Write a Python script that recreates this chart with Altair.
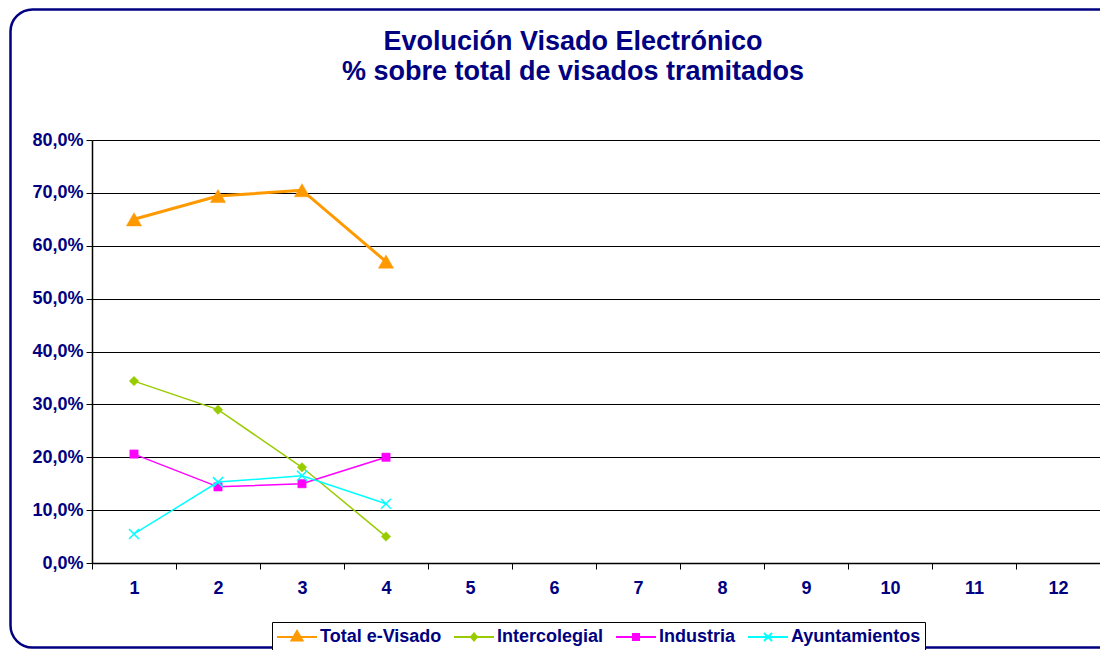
import altair as alt
import pandas as pd

months = list(range(1, 13))
series = ["Total e-Visado", "Intercolegial", "Industria", "Ayuntamientos"]
months_data = [1, 2, 3, 4]
total = [65.0, 69.4, 70.5, 57.0]
intercolegial = [34.4, 29.0, 18.1, 5.0]
industria = [20.6, 14.4, 15.0, 20.0]
ayuntamientos = [5.5, 15.3, 16.5, 11.2]
y_ticks = [0, 10, 20, 30, 40, 50, 60, 70, 80]
title_lines = ["Evolución  Visado Electrónico", "% sobre total de visados tramitados"]

colors = ["#FF9900", "#99CC00", "#FF00FF", "#00FFFF"]
widths = [3, 1.5, 1.5, 1.5]
shapes = ["triangle-up", "diamond", "square", "M-1,-1L1,1M-1,1L1,-1"]
sizes = [230, 90, 70, 100]
filled = [True, True, True, False]
# legend symbols: line from -1..3 units (10 px per unit), marker centred at unit 1
legend_paths = [
    "M-1,0H3M1,-0.6L1.55,0.35L0.45,0.35Z",
    "M-1,0H3M1,-0.35L1.3,0L1,0.35L0.7,0Z",
    "M-1,0H3M0.7,-0.3H1.3V0.3H0.7Z",
    "M-1,0H3M0.6,-0.4L1.4,0.4M0.6,0.4L1.4,-0.4",
]

rows = []
for name, vals in zip(series, [total, intercolegial, industria, ayuntamientos]):
    for m, v in zip(months_data, vals):
        rows.append({"mes": m, "valor": v, "serie": name})
df = pd.DataFrame(rows)

NAVY = "#000080"
FONT = "Liberation Sans"

x_enc = alt.X(
    "mes:O",
    scale=alt.Scale(type="band", domain=months, paddingInner=0, paddingOuter=0),
    axis=alt.Axis(
        title=None, tickBand="extent", grid=False, labelAngle=0,
        labelFont=FONT, labelFontSize=18, labelFontWeight="bold", labelColor=NAVY,
        labelPadding=10, tickSize=6, tickColor="black", domainColor="black",
        domainWidth=1.5, tickWidth=1,
    ),
)
y_enc = alt.Y(
    "valor:Q",
    scale=alt.Scale(domain=[0, 80], nice=False),
    axis=alt.Axis(
        title=None, values=y_ticks, grid=True, gridColor="black", gridWidth=1,
        labelExpr="replace(format(datum.value, '.1f'), '.', ',') + '%'",
        labelFont=FONT, labelFontSize=18, labelFontWeight="bold", labelColor=NAVY,
        labelPadding=3, tickSize=6, tickColor="black", domainColor="black",
        domainWidth=1.5,
    ),
)

base = alt.Chart(df)

border = alt.Chart(pd.DataFrame({"k": [0]})).mark_rect(
    fill="transparent", stroke=NAVY, strokeWidth=2.5, cornerRadius=22
).encode(
    x=alt.value(-81.5), x2=alt.value(1100), y=alt.value(-130.5), y2=alt.value(507.5)
)

title_df = pd.DataFrame({"t": title_lines})
title1 = alt.Chart(title_df).transform_filter(alt.datum.t == title_lines[0]).mark_text(
    font=FONT, fontSize=27, fontWeight="bold", color=NAVY, align="center", baseline="alphabetic"
).encode(text="t:N", x=alt.value(481), y=alt.value(-90))
title2 = alt.Chart(title_df).transform_filter(alt.datum.t == title_lines[1]).mark_text(
    font=FONT, fontSize=27, fontWeight="bold", color=NAVY, align="center", baseline="alphabetic"
).encode(text="t:N", x=alt.value(481), y=alt.value(-60))

layers = [border, title1, title2]
for i, name in enumerate(series):
    sub = base.transform_filter(alt.datum.serie == name)
    layers.append(
        sub.mark_line(color=colors[i], strokeWidth=widths[i]).encode(x=x_enc, y=y_enc)
    )
    pt_kwargs = dict(shape=shapes[i], size=sizes[i], opacity=1, filled=filled[i])
    if filled[i]:
        pt_kwargs.update(fill=colors[i], stroke=colors[i], strokeWidth=0.5)
    else:
        pt_kwargs.update(stroke=colors[i], strokeWidth=1.5)
    layers.append(sub.mark_point(**pt_kwargs).encode(x=x_enc, y=y_enc))


def legend_def():
    return alt.Legend(
        title=None, orient="none", legendX=180, legendY=482, direction="horizontal",
        symbolSize=400, symbolStrokeWidth=2, labelFont=FONT, labelFontSize=18,
        labelFontWeight="bold", labelColor=NAVY, labelOffset=22, columnPadding=8,
        padding=4, strokeColor="black", fillColor="white",
    )


legend_layer = base.transform_filter("false").mark_point(opacity=1, filled=True).encode(
    x=x_enc,
    y=y_enc,
    fill=alt.Fill("serie:N", scale=alt.Scale(domain=series, range=colors), legend=legend_def()),
    stroke=alt.Stroke("serie:N", scale=alt.Scale(domain=series, range=colors), legend=legend_def()),
    shape=alt.Shape("serie:N", scale=alt.Scale(domain=series, range=legend_paths), legend=legend_def()),
)
layers.append(legend_layer)

chart = alt.layer(*layers).properties(
    width=1008,
    height=423,
    autosize=alt.AutoSizeParams(type="none"),
    padding={"left": 84, "top": 132, "right": 0, "bottom": 87},
).configure_view(stroke=None).configure(background="white")

chart.save("out.html", embed_options={"renderer": "svg", "actions": False})
